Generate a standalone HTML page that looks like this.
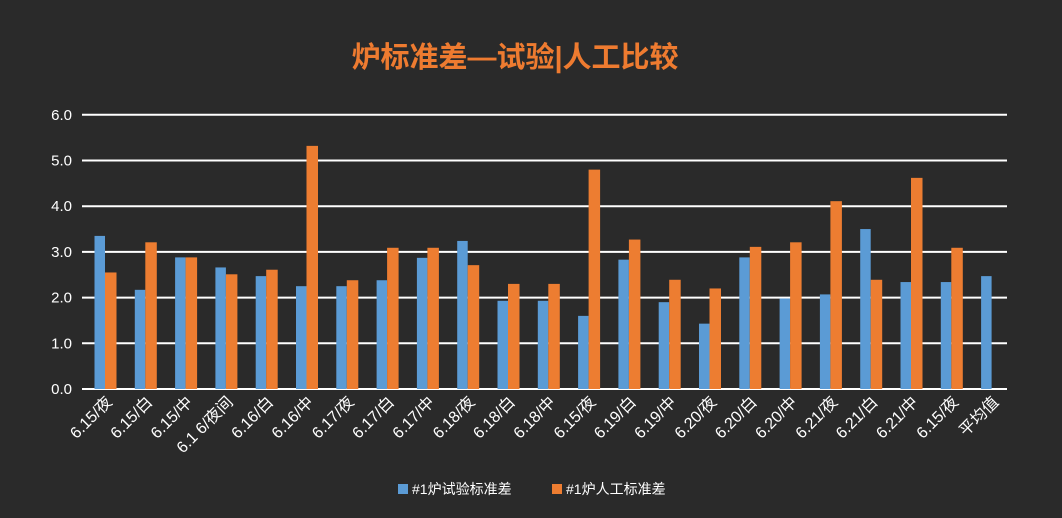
<!DOCTYPE html>
<html><head><meta charset="utf-8"><style>
body{margin:0;background:#2a2a2a;width:1062px;height:518px;overflow:hidden}
svg{display:block;font-family:"Liberation Sans","Noto Sans CJK SC",sans-serif}
</style></head><body>
<svg id="c" width="1062" height="518">
<rect width="1062" height="518" fill="#2a2a2a"/>
<text x="515" y="67" text-anchor="middle" font-size="29" font-weight="bold" fill="#ee7b30">炉标准差—试验|人工比较</text>
<g id="grid"></g><g id="bars"></g><g id="xl"></g>
<g>
<rect x="398" y="484" width="10" height="10" fill="#5b9bd5"/>
<text x="412" y="494" font-size="14" fill="#fff">#1炉试验标准差</text>
<rect x="552" y="484" width="10" height="10" fill="#ed7d31"/>
<text x="566" y="494" font-size="14" fill="#fff">#1炉人工标准差</text>
</g>
</svg>
<script>
const categories=["6.15/夜","6.15/白","6.15/中","6.1 6/夜间","6.16/白","6.16/中","6.17/夜","6.17/白","6.17/中","6.18/夜","6.18/白","6.18/中","6.15/夜","6.19/白","6.19/中","6.20/夜","6.20/白","6.20/中","6.21/夜","6.21/白","6.21/中","6.15/夜","平均值"];
const trial=[3.35,2.17,2.88,2.66,2.47,2.25,2.25,2.38,2.87,3.24,1.93,1.93,1.60,2.83,1.90,1.43,2.88,1.98,2.07,3.50,2.34,2.34,2.47];
const manual=[2.55,3.21,2.88,2.51,2.61,5.32,2.38,3.09,3.09,2.71,2.30,2.30,4.80,3.27,2.39,2.20,3.11,3.21,4.11,2.39,4.62,3.09,null];
const ticks=["0.0","1.0","2.0","3.0","4.0","5.0","6.0"];
const NS="http://www.w3.org/2000/svg";
const y0=389,pu=45.7,x0=105,step=40.3,bw=10.5;
const Y=v=>y0-v*pu, X=i=>x0+i*step;
function mk(t,a,p){const e=document.createElementNS(NS,t);for(const k in a)e.setAttribute(k,a[k]);p.appendChild(e);return e;}
const g=document.getElementById('grid');
ticks.forEach((t,i)=>{const v=parseFloat(t);
const l=mk('line',{x1:82,x2:1007,y1:Y(v),y2:Y(v),stroke:'#fff','stroke-width':2},g);


const tx=mk('text',{x:72,y:Y(v)+5,'text-anchor':'end','font-size':15,fill:'#fff'},g);tx.textContent=t;

});
const b=document.getElementById('bars'),xl=document.getElementById('xl');
categories.forEach((c,i)=>{const cx=X(i);
if(trial[i]!=null){const r=mk('rect',{x:cx-bw,y:Y(trial[i]),width:bw,height:trial[i]*pu,fill:'#5b9bd5'},b);

}
if(manual[i]!=null){const r=mk('rect',{x:cx,y:Y(manual[i]),width:bw+1,height:manual[i]*pu,fill:'#ed7d31'},b);

}
const t=mk('text',{x:cx+8,y:403,'text-anchor':'end','font-size':16,fill:'#fff',transform:`rotate(-45 ${cx+8} 403)`},xl);t.textContent=c;

});
</script>
</body></html>
